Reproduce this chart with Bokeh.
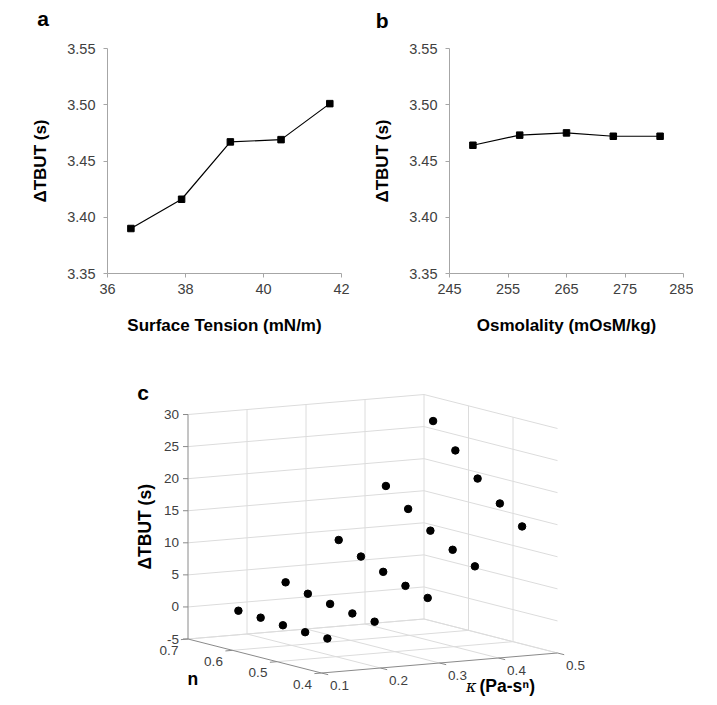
import numpy as np
from bokeh.plotting import figure
from bokeh.models import Range1d, FixedTicker, PrintfTickFormatter
from bokeh.layouts import column, row
from bokeh.embed import file_html
from bokeh.resources import INLINE
from bokeh.core.properties import value

FONT = "Liberation Sans"

# ---------------- data ----------------
# panel a
surface_tension = [36.6, 37.9, 39.15, 40.45, 41.7]
dtbut_a = [3.390, 3.416, 3.467, 3.469, 3.501]
ticks_a_x = [36, 38, 40, 42]
# panel b
osmolality = [249, 257, 265, 273, 281]
dtbut_b = [3.464, 3.473, 3.475, 3.472, 3.472]
ticks_b_x = [245, 255, 265, 275, 285]
ticks_ab_y = [3.35, 3.40, 3.45, 3.50, 3.55]
# panel c (3-D scatter): rows = kappa level, columns = n level
kappa_levels = [0.11, 0.19, 0.28, 0.36, 0.44]
n_levels = [0.60, 0.55, 0.50, 0.45, 0.40]
dtbut_c = [
    [1.1, 0.9, 0.6, 0.4, 0.3],
    [4.9, 4.0, 3.3, 2.7, 2.3],
    [10.8, 9.1, 7.6, 6.3, 5.3],
    [18.6, 15.9, 13.4, 11.3, 9.6],
    [28.1, 24.4, 20.9, 17.9, 15.2],
]
kappa_ticks = [0.1, 0.2, 0.3, 0.4, 0.5]
n_ticks = [0.4, 0.5, 0.6, 0.7]
z_ticks = [-5, 0, 5, 10, 15, 20, 25, 30]
panel_letters = ["a", "b"]

TICK_COL = "#404040"
AXIS_COL = "#a6a6a6"


def line_panel(xs, ys, xr, xticks, xlabel, left_border):
    p = figure(frame_width=234, frame_height=225,
               min_border_left=left_border, min_border_right=10,
               min_border_top=10, min_border_bottom=65,
               x_range=Range1d(xr[0], xr[1]), y_range=Range1d(3.35, 3.55),
               output_backend="svg", toolbar_location=None)
    p.grid.visible = False
    p.outline_line_color = None
    p.xaxis.ticker = FixedTicker(ticks=xticks)
    p.yaxis.ticker = FixedTicker(ticks=ticks_ab_y)
    p.yaxis.formatter = PrintfTickFormatter(format="%.2f")
    for ax in (p.xaxis[0], p.yaxis[0]):
        ax.axis_line_color = AXIS_COL
        ax.major_tick_line_color = AXIS_COL
        ax.major_tick_out = 4
        ax.major_tick_in = 0
        ax.minor_tick_line_color = None
        ax.major_label_text_font = FONT
        ax.major_label_text_font_size = "14.5px"
        ax.major_label_text_color = TICK_COL
        ax.axis_label_text_font = FONT
        ax.axis_label_text_font_size = "17px"
        ax.axis_label_text_font_style = "bold"
        ax.axis_label_text_color = "black"
    p.xaxis.axis_label_standoff = 19
    p.yaxis.axis_label_standoff = 14
    p.xaxis.major_label_standoff = 6
    p.yaxis.major_label_standoff = 8
    p.xaxis.axis_label = xlabel
    p.yaxis.axis_label = "ΔTBUT (s)"
    p.line(xs, ys, line_color="black", line_width=1.2)
    p.scatter(xs, ys, marker="square", size=6.5, fill_color="black", line_color="black")
    return p


pa = line_panel(surface_tension, dtbut_a, (36, 42), ticks_a_x, "Surface Tension (mN/m)", 107)
pb = line_panel(osmolality, dtbut_b, (245, 285), ticks_b_x, "Osmolality (mOsM/kg)", 98)

# strip above the two line panels holding the panel letters
ph = figure(width=693, height=38, x_range=Range1d(0, 693), y_range=Range1d(0, 38),
            min_border=0, x_axis_location=None, y_axis_location=None,
            output_backend="svg", toolbar_location=None)
ph.grid.visible = False
ph.outline_line_color = None
ph.text([42.7, 381.7], [20, 18], text=panel_letters,
        text_font=value(FONT), text_font_size=value("21px"), text_font_style="bold",
        text_align="center", text_baseline="middle", text_color="black")

# ---------------- panel c: orthographic 3-D projection ----------------
K0, N0, Z0 = 0.1, 0.4, -5.0
K1, N1, Z1 = 0.5, 0.7, 30.0
OX, OY = 321.0, 27.5          # screen position of (K0, N0, Z0)
KV = (590.0, 50.0)            # screen vector per unit kappa
NV = (-445.0, 113.3)          # screen vector per unit n
ZV = (0.0, 6.414)             # screen vector per unit dTBUT


def proj(k, n, z):
    k = np.asarray(k, dtype=float)
    n = np.asarray(n, dtype=float)
    z = np.asarray(z, dtype=float)
    x = OX + KV[0] * (k - K0) + NV[0] * (n - N0) + ZV[0] * (z - Z0)
    y = OY + KV[1] * (k - K0) + NV[1] * (n - N0) + ZV[1] * (z - Z0)
    return x, y


def seg(a, b):
    x0, y0 = proj(*a)
    x1, y1 = proj(*b)
    return [float(x0), float(x1)], [float(y0), float(y1)]


pc = figure(width=693, height=362, x_range=Range1d(0, 693), y_range=Range1d(0, 362),
            min_border=0, x_axis_location=None, y_axis_location=None,
            output_backend="svg", toolbar_location=None)
pc.grid.visible = False
pc.outline_line_color = None

GRID_COL = "#dcdcdc"
gx, gy = [], []
# back-left wall (n = N1)
for z in z_ticks:
    sx, sy = seg((K0, N1, z), (K1, N1, z)); gx.append(sx); gy.append(sy)
for k in kappa_ticks[1:]:
    sx, sy = seg((k, N1, Z0), (k, N1, Z1)); gx.append(sx); gy.append(sy)
# back-right wall (kappa = K1)
for z in z_ticks:
    sx, sy = seg((K1, N1, z), (K1, N0, z)); gx.append(sx); gy.append(sy)
for n in [0.6, 0.5]:
    sx, sy = seg((K1, n, Z0), (K1, n, Z1)); gx.append(sx); gy.append(sy)
# floor
for k in kappa_ticks[1:]:
    sx, sy = seg((k, N0, Z0), (k, N1, Z0)); gx.append(sx); gy.append(sy)
for n in n_ticks[1:]:
    sx, sy = seg((K0, n, Z0), (K1, n, Z0)); gx.append(sx); gy.append(sy)
pc.multi_line(gx, gy, line_color=GRID_COL, line_width=1)

AX3 = "#8a8a8a"
axx, axy = [], []
for a, b in [((K0, N1, Z0), (K0, N1, Z1)),     # dTBUT axis
             ((K0, N0, Z0), (K0, N1, Z0)),     # n axis
             ((K0, N0, Z0), (K1, N0, Z0))]:    # kappa axis
    sx, sy = seg(a, b); axx.append(sx); axy.append(sy)
# tick marks
for z in z_ticks:
    x0, y0 = proj(K0, N1, z)
    axx.append([float(x0) - 5, float(x0)]); axy.append([float(y0), float(y0)])
for n in n_ticks:
    sx, sy = seg((K0, n, Z0), (K0 - 0.012, n, Z0)); axx.append(sx); axy.append(sy)
for k in kappa_ticks:
    sx, sy = seg((k, N0, Z0), (k, N0 - 0.015, Z0)); axx.append(sx); axy.append(sy)
pc.multi_line(axx, axy, line_color=AX3, line_width=1)

# data points
kk, nn, zz = [], [], []
for i, k in enumerate(kappa_levels):
    for j, n in enumerate(n_levels):
        kk.append(k); nn.append(n); zz.append(dtbut_c[i][j])
px, py = proj(kk, nn, zz)
pc.scatter(px, py, marker="circle", size=7.5, fill_color="black", line_color="black")

LBL = dict(text_font=value(FONT), text_font_size=value("13.5px"), text_color=TICK_COL)
# z tick labels
zx, zy = proj([K0] * len(z_ticks), [N1] * len(z_ticks), z_ticks)
pc.text(zx - 9, zy, text=[str(z) for z in z_ticks], text_align="right", text_baseline="middle", **LBL)
# n tick labels
nx, ny = proj([K0] * len(n_ticks), n_ticks, [Z0] * len(n_ticks))
pc.text(nx - 19, ny - 11, text=["%.1f" % n for n in n_ticks], text_align="center", text_baseline="middle", **LBL)
# kappa tick labels
kx, ky = proj(kappa_ticks, [N0] * len(kappa_ticks), [Z0] * len(kappa_ticks))
pc.text(kx + 18, ky - 12.5, text=["%.1f" % k for k in kappa_ticks], text_align="center", text_baseline="middle", **LBL)

TTL = dict(text_font=value(FONT), text_font_size=value("17.5px"), text_font_style="bold", text_color="black",
           text_baseline="middle")
# axis titles
tx, ty = proj(K0, N1, (Z0 + Z1) / 2)
pc.text([float(tx) - 43], [float(ty)], text=["ΔTBUT (s)"], angle=np.pi / 2, text_align="center", **TTL)
tx, ty = proj(K0, (N0 + N1) / 2, Z0)
pc.text([float(tx) - 62], [float(ty) - 23], text=["n"], text_align="center", **TTL)
tx, ty = proj((K0 + K1) / 2, N0, Z0)
pc.text([float(tx) + 37], [float(ty) - 23], text=["κ"], text_align="right",
        text_font=value("DejaVu Serif"), text_font_size=value("16px"), text_font_style="italic",
        text_color="black", text_baseline="middle")
pc.text([float(tx) + 40], [float(ty) - 23], text=["(Pa-sⁿ)"], text_align="left", **TTL)
# panel letter
tx, ty = proj(K0, N1, Z1)
pc.text([float(tx) - 45], [float(ty) + 22], text=["c"],
        text_font=value(FONT), text_font_size=value("21px"), text_font_style="bold",
        text_align="center", text_baseline="middle")

layout = column(ph, row(pa, pb), pc)
open("out.html", "w").write(file_html(layout, INLINE))
